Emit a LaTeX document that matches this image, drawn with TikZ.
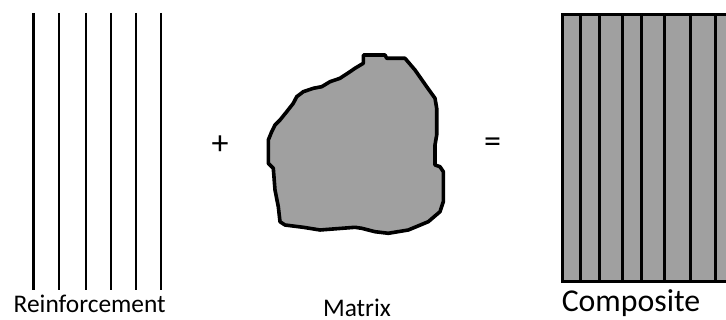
\documentclass[tikz,border=0pt]{standalone}
\usepackage{fontspec}
\setmainfont{Carlito}
\definecolor{blobgray}{HTML}{A0A0A0}
\begin{document}
\begin{tikzpicture}[x=1pt,y=-1pt,
  fiber/.style={line width=2.8pt},
  blob/.style={fill=blobgray,draw=black,line width=3.6pt,line join=round},
  comp/.style={fill=blobgray,draw=black,line width=3pt},
  lbl/.style={inner sep=0pt,anchor=base},
  sym/.style={inner sep=0pt,font=\fontsize{34}{40}\selectfont}]
\useasboundingbox (0,0) rectangle (726,320);
\begin{scope}
\clip (0,0) rectangle (726,320);
% reinforcement fibres
\foreach \x in {33.5,59,86,111,136,161}
  \draw[fiber] (\x,13) -- (\x,290);
% matrix blob
\draw[blob] (363.3,55) -- (385,55) -- (386.7,58.3) -- (405,58.3) -- (415,70)
  -- (426.7,86.7) -- (435,98.3) -- (436.7,108.3) -- (436.7,135) -- (435,145)
  -- (435,165) -- (440,166.7) -- (443.3,171.7) -- (443.3,201.7) -- (440,211.7)
  -- (428.3,221.7) -- (408.3,230) -- (388.3,233.3) -- (375,231.7) -- (361.7,228.3)
  -- (355,227.3) -- (320,230) -- (303.3,227.3) -- (285,225) -- (280,221.7)
  -- (278.3,206.7) -- (275,190) -- (273.3,168.3) -- (268.3,163.3) -- (268.3,140)
  -- (271.7,131.7) -- (275,125) -- (280,120) -- (286.7,111.7) -- (293.3,103.3)
  -- (296.7,96.7) -- (303.3,91.7) -- (313.3,88.3) -- (321.7,86.7) -- (330,81.7)
  -- (340,78.3) -- (350,71.7) -- (355,68.3) -- (363.3,63.3) -- cycle;
% composite
\draw[comp] (562.7,14.7) rectangle (740,282);
\foreach \x in {580,599,622.7,641,664.3,690.5,715.7}
  \draw[comp] (\x,14.7) -- (\x,282);
\end{scope}
% labels
\node[lbl,font=\fontsize{25.4}{30}\selectfont] (reinf) at (89.7,313) {Reinforcement};
\node[lbl,font=\fontsize{25.4}{30}\selectfont] (matrix) at (357,316.5) {Matrix};
\node[lbl,font=\fontsize{31.8}{36}\selectfont] (composite) at (631,312) {Composite};
\node[sym] (plus) at (220,145) {+};
\node[sym] (equals) at (492.5,145) {=};
\end{tikzpicture}
\end{document}
